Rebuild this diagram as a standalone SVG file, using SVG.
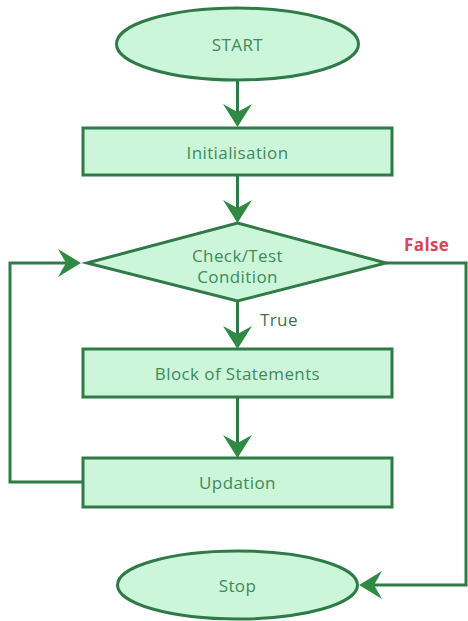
<svg xmlns="http://www.w3.org/2000/svg" width="468" height="621" viewBox="0 0 468 621">
<defs>
<style>
.shape{fill:#cbf6d9;stroke:#2f7a47;stroke-width:3}
.lbl{font-family:"Open Sans","Liberation Sans",sans-serif;font-size:17px;letter-spacing:0.4px;fill:#3e8a5c;text-anchor:middle;dominant-baseline:central}
.line{fill:none;stroke:#2f7a47;stroke-width:3}
.head{fill:#2e8a45}
</style>
</defs>
<rect width="468" height="621" fill="#ffffff"/>
<g id="connectors">
<line class="line" x1="237.5" y1="80" x2="237.5" y2="112"/>
<path class="head" d="M237.5,127 L223,104 L237.5,112 L252,104 Z"/>
<line class="line" x1="237.5" y1="175" x2="237.5" y2="208"/>
<path class="head" d="M237.5,223 L223,200 L237.5,208 L252,200 Z"/>
<line class="line" x1="237.5" y1="301" x2="237.5" y2="334"/>
<path class="head" d="M237.5,349 L223,326 L237.5,334 L252,326 Z"/>
<line class="line" x1="237.5" y1="397" x2="237.5" y2="443"/>
<path class="head" d="M237.5,458 L223,435 L237.5,443 L252,435 Z"/>
<polyline class="line" points="83,482 10,482 10,263 66,263"/>
<path class="head" d="M81,263 L58,249 L66,263 L58,277 Z"/>
<polyline class="line" points="386,263 466,263 466,585 374,585"/>
<path class="head" d="M359,585 L382,571 L374,585 L382,599 Z"/>
<text x="260" y="319" class="lbl" style="text-anchor:start;fill:#3f6f57">True</text>
<text x="404" y="244" class="lbl" style="text-anchor:start;fill:#d6455b;font-weight:bold">False</text>
</g>
<g id="start">
<ellipse class="shape" cx="237.5" cy="44" rx="121" ry="36"/>
<text x="237.5" y="44" class="lbl">START</text>
</g>
<g id="init">
<rect class="shape" x="83" y="128" width="309" height="47"/>
<text x="237.5" y="152" class="lbl">Initialisation</text>
</g>
<g id="cond">
<polygon class="shape" points="237.5,223 386,263 237.5,301 87,263"/>
<text x="237.5" y="255" class="lbl">Check/Test</text>
<text x="237.5" y="276" class="lbl">Condition</text>
</g>
<g id="block">
<rect class="shape" x="83" y="349" width="309" height="48"/>
<text x="237.5" y="373" class="lbl">Block of Statements</text>
</g>
<g id="update">
<rect class="shape" x="83" y="458" width="309" height="49"/>
<text x="237.5" y="482" class="lbl">Updation</text>
</g>
<g id="stop">
<ellipse class="shape" cx="237.5" cy="585" rx="120" ry="34"/>
<text x="237.5" y="585" class="lbl">Stop</text>
</g>
</svg>
